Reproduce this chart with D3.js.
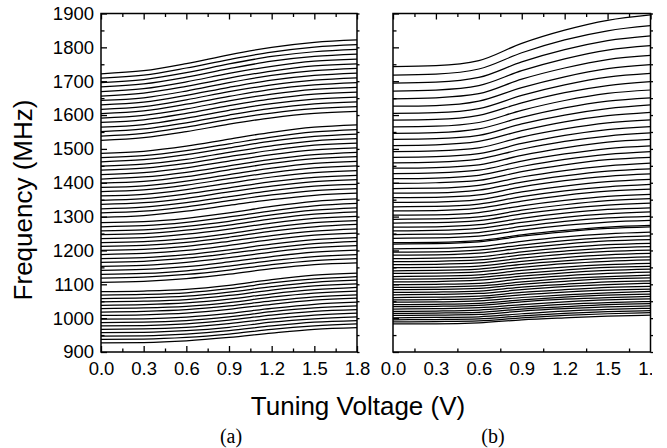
<!DOCTYPE html>
<html><head><meta charset="utf-8">
<script src="https://cdn.jsdelivr.net/npm/d3@7"></script>
<style>
html,body{margin:0;padding:0;background:#fff;}
svg{display:block;}
.tick text{font-family:"Liberation Sans",Arial,sans-serif;font-size:18.5px;fill:#000;}
</style>
</head><body>
<svg id="chart" width="667" height="448"></svg>
<script>
// ---------------- DATA ----------------
const voltages = [0, 0.3, 0.6, 0.9, 1.2, 1.5, 1.8];
const freqMajorTicks = [900, 1000, 1100, 1200, 1300, 1400, 1500, 1600, 1700, 1800, 1900];
const freqMinorTicks = [950, 1050, 1150, 1250, 1350, 1450, 1550, 1650, 1750, 1850];
const voltMajorTicks = [0, 0.3, 0.6, 0.9, 1.2, 1.5, 1.8];
const voltMinorTicks = [0.15, 0.45, 0.75, 1.05, 1.35, 1.65];
const panelLabels = ["(a)", "(b)"];
const xTitle = "Tuning Voltage (V)";
const yTitle = "Frequency (MHz)";

// panel (a): frequency (MHz) of each tuning curve at the voltages above
const curvesA = [
[927,928,933,943,956,967,972],[937,938,943,953,967,977,983],[947,948,953,963,977,988,993],[957,958,963,973,988,998,1004],
[967,968,973,984,998,1009,1015],[977,978,983,994,1009,1020,1025],[987,988,993,1004,1019,1030,1036],[997,998,1003,1014,1029,1041,1047],
[1008,1010,1015,1026,1041,1053,1059],[1018,1020,1025,1036,1051,1063,1069],[1028,1030,1035,1046,1062,1074,1080],[1038,1040,1045,1056,1072,1084,1091],
[1048,1050,1055,1067,1083,1095,1101],[1058,1060,1065,1077,1093,1106,1112],[1068,1070,1075,1087,1104,1116,1123],[1078,1080,1085,1097,1114,1127,1133],
[1106,1109,1117,1130,1146,1158,1163],[1118,1121,1129,1142,1158,1170,1176],[1129,1132,1140,1154,1170,1182,1188],[1141,1144,1152,1166,1182,1195,1201],
[1153,1156,1165,1179,1195,1208,1214],[1165,1168,1177,1191,1207,1220,1227],[1176,1179,1188,1202,1219,1232,1238],[1188,1191,1200,1215,1232,1245,1251],
[1200,1203,1212,1227,1244,1257,1264],[1212,1215,1224,1239,1257,1270,1277],[1223,1226,1235,1250,1268,1282,1288],[1235,1238,1248,1263,1281,1295,1301],
[1247,1250,1260,1275,1293,1307,1314],[1258,1261,1271,1286,1305,1319,1326],[1270,1273,1283,1299,1317,1332,1339],[1282,1285,1295,1311,1330,1345,1352],
[1298,1303,1316,1333,1350,1363,1369],[1311,1316,1329,1347,1364,1377,1383],[1323,1328,1341,1359,1377,1390,1395],[1336,1341,1354,1373,1390,1403,1409],
[1348,1353,1367,1385,1403,1416,1422],[1361,1366,1380,1399,1417,1430,1436],[1374,1379,1393,1412,1430,1444,1450],[1386,1391,1405,1424,1443,1457,1463],
[1399,1404,1418,1438,1457,1471,1477],[1411,1417,1431,1450,1469,1483,1490],[1424,1430,1444,1464,1483,1497,1503],[1437,1443,1457,1477,1496,1511,1517],
[1449,1455,1469,1490,1509,1524,1530],[1462,1468,1483,1503,1523,1537,1544],[1474,1480,1495,1515,1535,1550,1557],[1487,1493,1508,1529,1549,1564,1571],
[1525,1533,1551,1573,1592,1605,1611],[1538,1546,1564,1587,1606,1619,1625],[1551,1559,1577,1600,1620,1633,1639],[1564,1572,1591,1614,1634,1647,1653],
[1578,1586,1605,1628,1648,1662,1668],[1591,1599,1618,1642,1662,1676,1682],[1604,1612,1632,1655,1676,1689,1696],[1617,1625,1645,1669,1689,1703,1710],
[1630,1638,1658,1682,1703,1717,1724],[1643,1651,1671,1696,1717,1731,1738],[1656,1665,1685,1709,1730,1745,1751],[1669,1678,1698,1723,1744,1759,1765],
[1683,1692,1712,1737,1759,1773,1780],[1696,1705,1725,1751,1773,1787,1794],[1709,1718,1739,1764,1786,1801,1808],[1722,1731,1752,1778,1800,1815,1822]
];

// panel (b)
const curvesB = [
[983,983,986,995,1001,1006,1009],[989,990,992,1001,1008,1013,1016],[995,996,998,1007,1014,1019,1022],[1001,1002,1004,1013,1021,1026,1029],
[1008,1009,1011,1021,1028,1033,1036],[1014,1015,1017,1027,1034,1040,1043],[1020,1021,1024,1033,1041,1046,1049],[1027,1028,1031,1040,1048,1054,1057],
[1034,1035,1038,1048,1056,1061,1064],[1040,1041,1044,1054,1062,1068,1071],[1047,1048,1051,1061,1069,1075,1079],[1054,1055,1058,1069,1077,1083,1086],
[1061,1062,1065,1076,1084,1091,1094],[1069,1070,1073,1084,1093,1099,1103],[1076,1077,1080,1092,1100,1107,1110],[1084,1085,1088,1100,1109,1116,1119],
[1091,1092,1095,1107,1117,1123,1127],[1099,1100,1103,1116,1125,1132,1136],[1107,1108,1112,1124,1134,1141,1145],[1115,1116,1120,1132,1142,1150,1153],
[1123,1124,1128,1141,1151,1158,1162],[1132,1133,1137,1150,1161,1168,1172],[1140,1141,1145,1159,1169,1177,1181],[1149,1150,1154,1168,1179,1187,1191],
[1158,1159,1163,1177,1189,1197,1201],[1167,1168,1172,1187,1198,1207,1211],[1176,1177,1181,1196,1208,1217,1221],[1186,1187,1192,1207,1219,1228,1232],
[1195,1196,1201,1216,1229,1238,1243],[1205,1206,1211,1227,1240,1249,1254],[1219,1220,1225,1242,1255,1265,1270],[1223,1224,1229,1246,1259,1269,1274],
[1236,1237,1242,1260,1274,1284,1289],[1247,1248,1253,1271,1286,1296,1301],[1258,1259,1265,1283,1298,1308,1314],[1269,1270,1276,1295,1310,1321,1326],
[1281,1282,1288,1308,1323,1334,1340],[1292,1293,1299,1319,1335,1347,1353],[1304,1305,1312,1332,1348,1360,1366],[1317,1318,1325,1346,1363,1375,1381],
[1329,1330,1337,1359,1376,1388,1395],[1342,1343,1350,1373,1390,1403,1410],[1356,1357,1364,1388,1406,1419,1426],[1369,1370,1378,1402,1420,1434,1441],
[1383,1384,1392,1417,1436,1450,1458],[1398,1400,1407,1433,1453,1468,1475],[1412,1414,1422,1448,1469,1484,1492],[1427,1429,1437,1464,1485,1501,1509],
[1443,1445,1453,1481,1503,1520,1528],[1459,1461,1470,1499,1522,1538,1547],[1475,1477,1486,1516,1540,1557,1566],[1492,1494,1503,1535,1559,1577,1586],
[1510,1512,1522,1554,1580,1598,1608],[1528,1530,1540,1574,1600,1619,1630],[1546,1548,1559,1593,1621,1641,1651],[1565,1567,1578,1614,1643,1664,1674],
[1585,1587,1599,1636,1666,1687,1699],[1605,1607,1619,1658,1689,1712,1723],[1626,1628,1641,1681,1713,1737,1749],[1648,1651,1663,1706,1739,1764,1776],
[1671,1674,1687,1731,1766,1792,1805],[1694,1697,1711,1757,1793,1820,1834],[1718,1721,1736,1784,1822,1849,1864],[1743,1746,1761,1812,1851,1880,1896]
];

// ---------------- DRAW ----------------
const svg = d3.select("#chart");
const yTop = 13.5, yBottom = 352;
const panels = [
  {curves: curvesA, x0: 101, x1: 357, label: panelLabels[0], showY: true, lx: 231},
  {curves: curvesB, x0: 393, x1: 650.5, label: panelLabels[1], showY: false, lx: 493}
];
const y = d3.scaleLinear().domain([900, 1900]).range([yBottom, yTop]);
const fmt = d3.format(".1f");

svg.append("defs").append("clipPath").attr("id", "pageclip")
  .append("rect").attr("x", 0).attr("y", 0).attr("width", 652).attr("height", 448);

panels.forEach((p, pi) => {
  const x = d3.scaleLinear().domain([0, 1.8]).range([p.x0, p.x1]);
  const g = svg.append("g");
  const line = d3.line().x((d, i) => x(voltages[i])).y(d => y(d)).curve(d3.curveMonotoneX);

  g.append("g").selectAll("path").data(p.curves).join("path")
    .attr("d", line).attr("fill", "none").attr("stroke", "#000").attr("stroke-width", 1.25);

  g.append("g").attr("transform", `translate(${p.x0},0)`)
    .call(d3.axisLeft(y).tickValues(freqMajorTicks).tickSize(-6).tickPadding(7)
      .tickFormat(p.showY ? d3.format("d") : () => ""));
  g.append("g").attr("transform", `translate(${p.x0},0)`)
    .call(d3.axisLeft(y).tickValues(freqMinorTicks).tickSize(-3.5).tickFormat(() => ""));
  g.append("g").attr("transform", `translate(${p.x1},0)`)
    .call(d3.axisRight(y).tickValues(freqMajorTicks.concat(freqMinorTicks)).tickSize(2.5).tickFormat(() => ""));
  const ba = g.append("g").attr("transform", `translate(0,${yBottom})`)
    .call(d3.axisBottom(x).tickValues(voltMajorTicks).tickSize(-6).tickPadding(10).tickFormat(fmt));
  if (pi === 1) ba.attr("clip-path", "url(#pageclip)");
  g.append("g").attr("transform", `translate(0,${yBottom})`)
    .call(d3.axisBottom(x).tickValues(voltMinorTicks).tickSize(-3.5).tickFormat(() => ""));
  g.append("g").attr("transform", `translate(0,${yTop})`)
    .call(d3.axisTop(x).tickValues(voltMajorTicks).tickSize(-6).tickFormat(() => ""));
  g.append("g").attr("transform", `translate(0,${yTop})`)
    .call(d3.axisTop(x).tickValues(voltMinorTicks).tickSize(-3.5).tickFormat(() => ""));

  g.selectAll(".domain").remove();
  g.selectAll(".tick line").attr("stroke", "#000").attr("stroke-width", 1.3);

  g.append("rect").attr("x", p.x0).attr("y", yTop).attr("width", p.x1 - p.x0).attr("height", yBottom - yTop)
    .attr("fill", "none").attr("stroke", "#000").attr("stroke-width", 1.5);

  svg.append("text").attr("x", p.lx).attr("y", 443).attr("text-anchor", "middle")
    .attr("font-family", "'Liberation Serif','Times New Roman',serif").attr("font-size", 20)
    .text(p.label);
});

svg.append("text").attr("x", 358).attr("y", 415).attr("text-anchor", "middle")
  .attr("font-family", "'Liberation Sans',Arial,sans-serif").attr("font-size", 26).text(xTitle);
svg.append("text").attr("transform", "translate(32,200) rotate(-90)").attr("text-anchor", "middle")
  .attr("font-family", "'Liberation Sans',Arial,sans-serif").attr("font-size", 26).text(yTitle);
</script>
</body></html>
